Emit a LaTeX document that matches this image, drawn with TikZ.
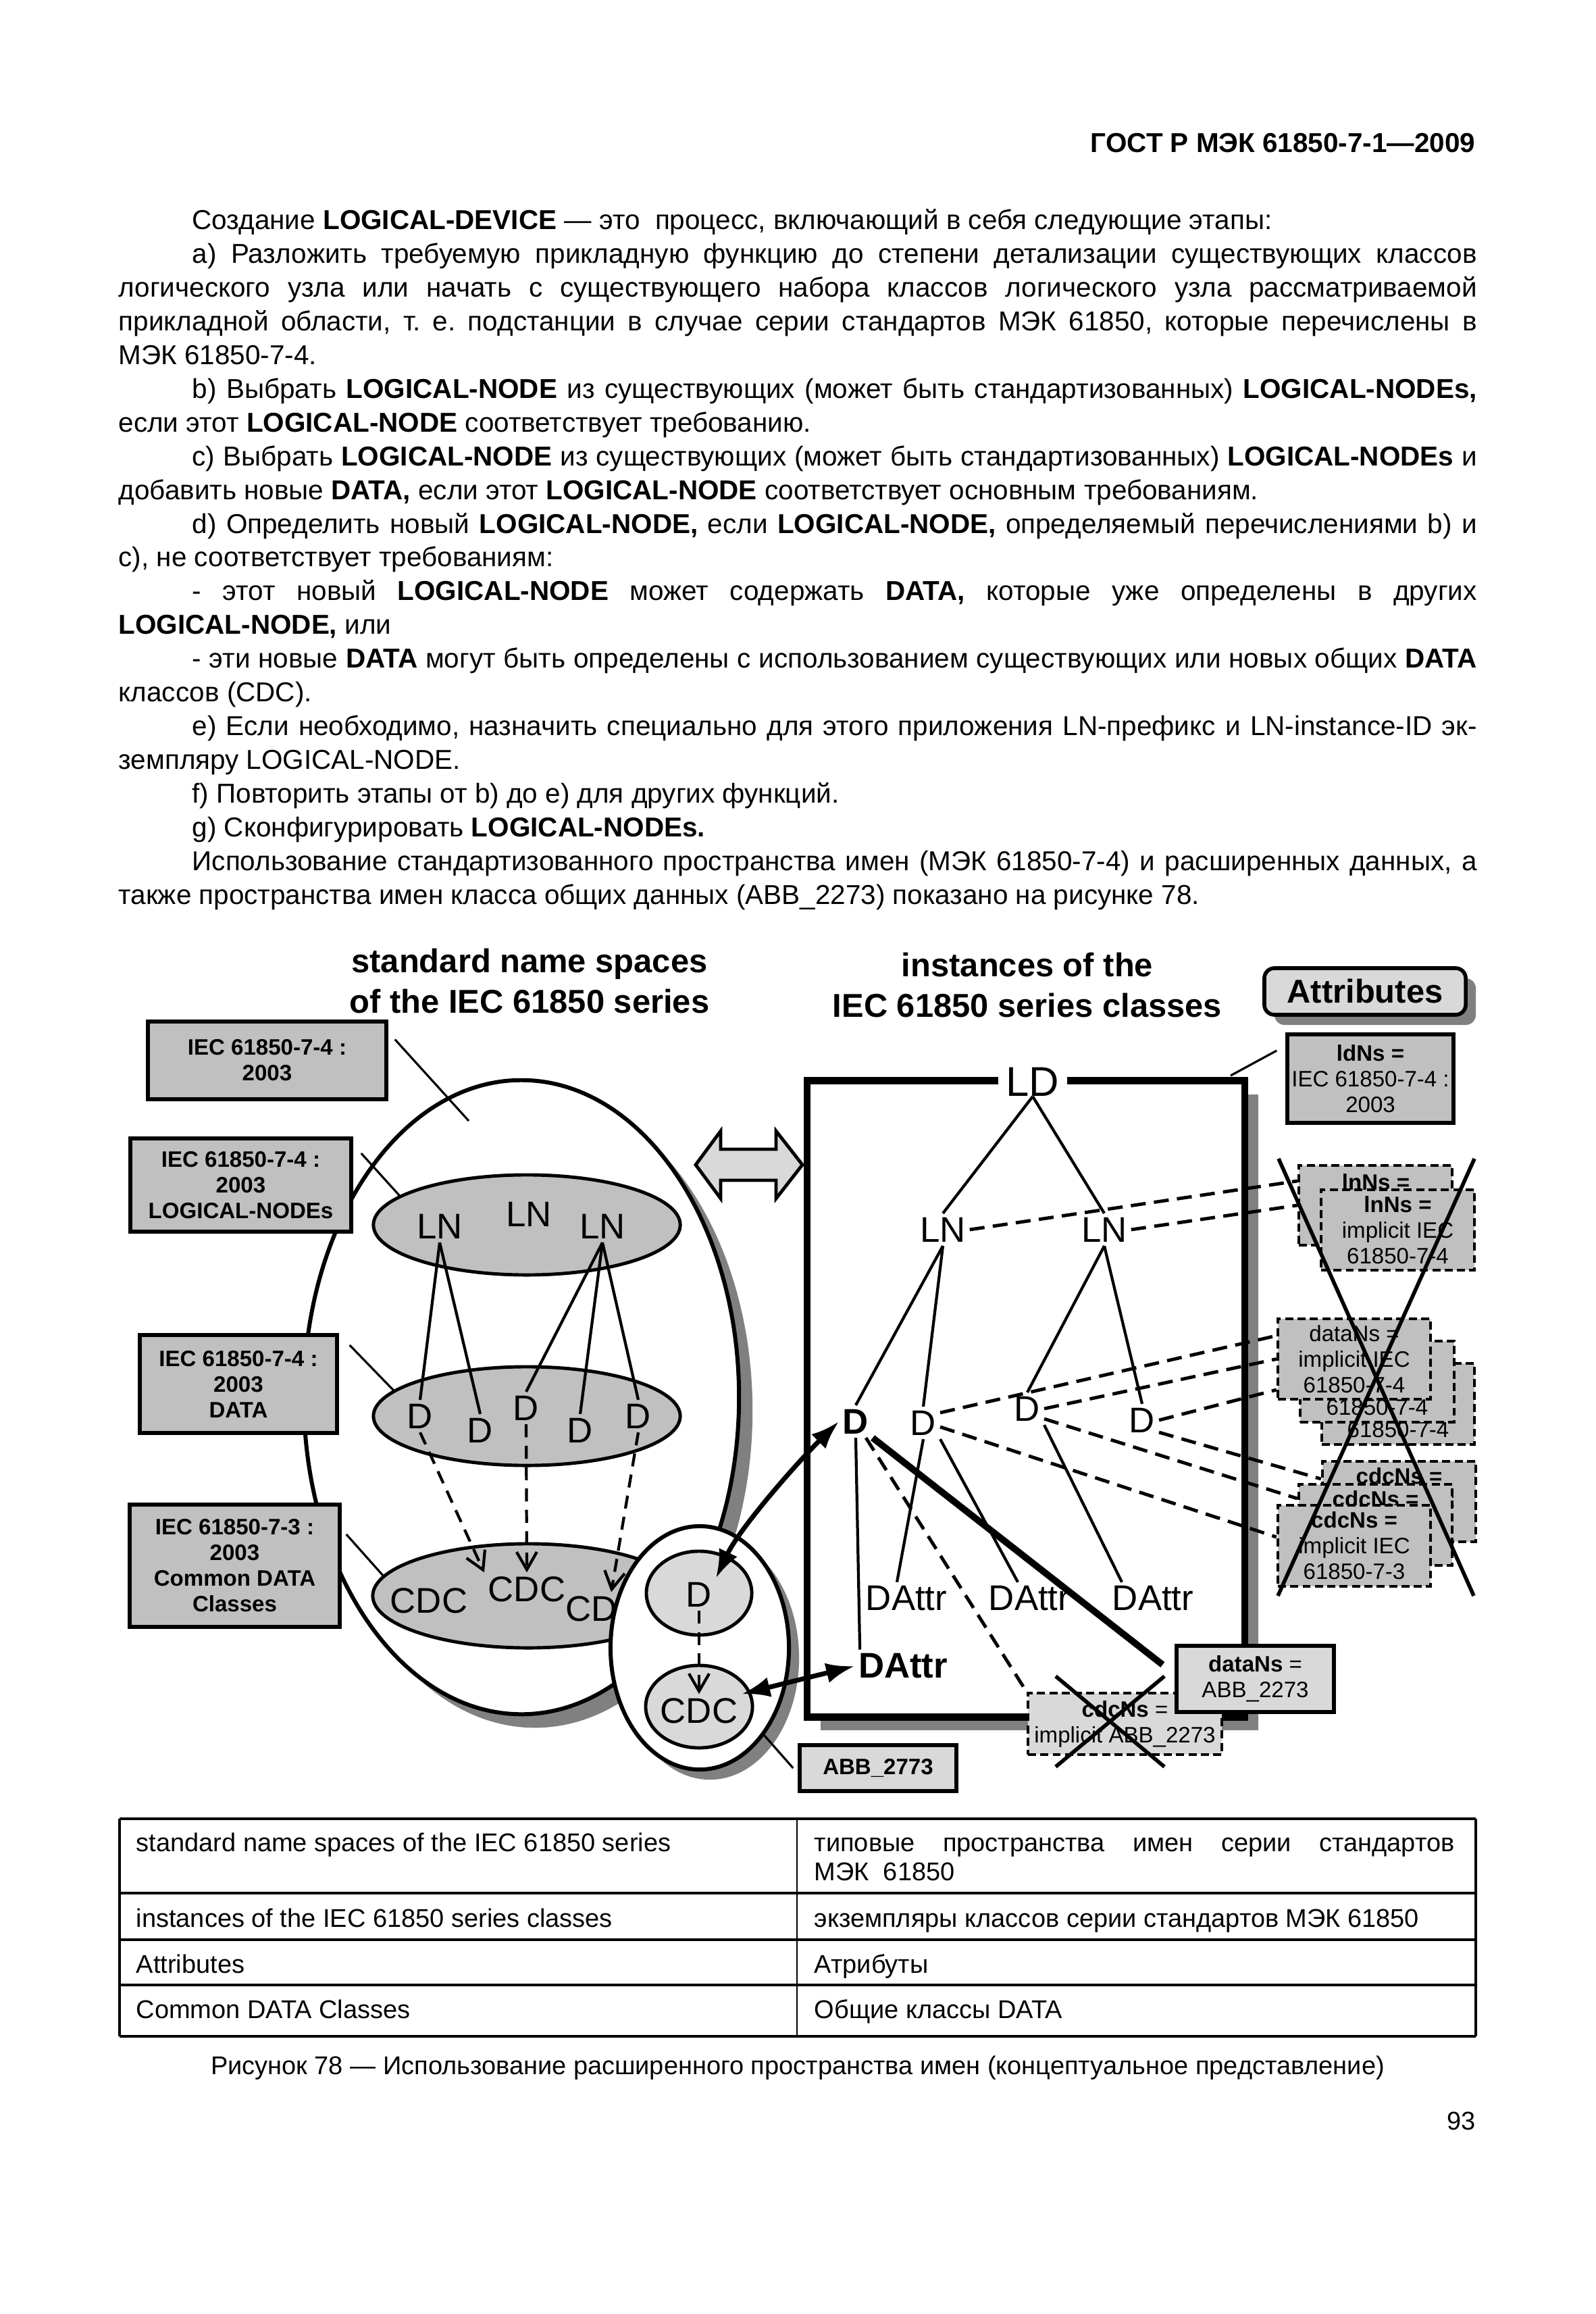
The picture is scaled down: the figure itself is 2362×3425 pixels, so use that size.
\documentclass[tikz,border=0pt]{standalone}
\usepackage{fontspec}
\setmainfont{Liberation Sans}
\usetikzlibrary{shapes.geometric,arrows.meta,shadows,calc}
\definecolor{dgray}{HTML}{C0C0C0}
\definecolor{lgray}{HTML}{D9D9D9}
\definecolor{shgray}{HTML}{808080}
\frenchspacing
\newcommand\fBody{\fontsize{11.5pt}{14.2pt}\selectfont}
\newcommand\fTab{\fontsize{10.8pt}{13pt}\selectfont}
\newcommand\fHead{\fontsize{11.5pt}{14pt}\selectfont\bfseries}
\newcommand\fTitle{\fontsize{13.9pt}{16.8pt}\selectfont\bfseries}
\newcommand\fSym{\fontsize{15pt}{18pt}\selectfont}
\newcommand\fLD{\fontsize{17.5pt}{20pt}\selectfont}
\newcommand\fSmall{\fontsize{9.4pt}{10.8pt}\selectfont}
\newcommand\jlineA[1]{\makebox[19.01cm][s]{#1}}
\newcommand\jlineB[1]{\makebox[20.10cm][s]{#1}}
\tikzset{
 bodyt/.style={font=\fBody, inner sep=0pt, anchor=base west},
 tabt/.style={font=\fTab, inner sep=0pt, anchor=base west},
 symtxt/.style={font=\fSym, inner sep=1.5pt},
 lblbox/.style={draw, line width=1.5pt, fill=dgray, inner sep=0pt, align=center, font=\fSmall\bfseries},
 attdash/.style={draw, line width=1.2pt, dash pattern=on 3.4pt off 1.8pt, fill=dgray, inner sep=0pt, align=center, font=\fSmall},
 litebox/.style={draw, line width=1.5pt, fill=lgray, inner sep=0pt, align=center, font=\fSmall},
 inell/.style={ellipse, draw, line width=1.4pt, fill=dgray, inner sep=0pt},
 treeline/.style={line width=1.2pt},
 dashln/.style={line width=1.4pt, dash pattern=on 6.3pt off 3.5pt},
 dasharrS/.style={line width=1.2pt, dash pattern=on 5.5pt off 3.5pt, -{Straight Barb[length=0.26cm,width=0.3cm]}},
 leader/.style={line width=0.9pt},
 xmark/.style={line width=1.6pt},
 boldarr/.style={line width=2pt, {Latex[length=0.42cm,width=0.3cm]}-{Latex[length=0.42cm,width=0.3cm]}},
 myshadow/.style={drop shadow={shadow xshift=#1, shadow yshift=-#1, fill=shgray, opacity=1}},
}
\begin{document}
\begin{tikzpicture}[x=0.01cm,y=-0.01cm]
\useasboundingbox (0,0) rectangle (2362,3425);
\fill[white] (0,0) rectangle (2362,3425);

% ---------- header and body text ----------
\node[bodyt, anchor=base east, font=\fHead] (hdr) at (2185,226) {ГОСТ Р МЭК 61850-7-1—2009};
\node[bodyt] (t1) at (284,340) {Создание \textbf{LOGICAL-DEVICE} — это\ \ процесс, включающий в себя следующие этапы:};
\node[bodyt] (t2) at (284,389.9) {\jlineA{а) Разложить требуемую прикладную функцию до степени детализации существующих классов}};
\node[bodyt] (t3) at (175,439.8) {\jlineB{логического узла или начать с существующего набора классов логического узла рассматриваемой}};
\node[bodyt] (t4) at (175,489.7) {\jlineB{прикладной области, т. е. подстанции в случае серии стандартов МЭК 61850, которые перечислены в}};
\node[bodyt] (t5) at (175,539.6) {МЭК 61850-7-4.};
\node[bodyt] (t6) at (284,589.5) {\jlineA{b) Выбрать \textbf{LOGICAL-NODE} из существующих (может быть стандартизованных) \textbf{LOGICAL-NODEs,}}};
\node[bodyt] (t7) at (175,639.4) {если этот \textbf{LOGICAL-NODE} соответствует требованию.};
\node[bodyt] (t8) at (284,689.3) {\jlineA{c) Выбрать \textbf{LOGICAL-NODE} из существующих (может быть стандартизованных) \textbf{LOGICAL-NODEs} и}};
\node[bodyt] (t9) at (175,739.2) {добавить новые \textbf{DATA,} если этот \textbf{LOGICAL-NODE} соответствует основным требованиям.};
\node[bodyt] (t10) at (284,789.1) {\jlineA{d) Определить новый \textbf{LOGICAL-NODE,} если \textbf{LOGICAL-NODE,} определяемый перечислениями b) и}};
\node[bodyt] (t11) at (175,839) {c), не соответствует требованиям:};
\node[bodyt] (t12) at (284,888.9) {\jlineA{- этот новый \textbf{LOGICAL-NODE} может содержать \textbf{DATA,} которые уже определены в других}};
\node[bodyt] (t13) at (175,938.8) {\textbf{LOGICAL-NODE,} или};
\node[bodyt] (t14) at (284,988.7) {\jlineA{- эти новые \textbf{DATA} могут быть определены с использованием существующих или новых общих \textbf{DATA}}};
\node[bodyt] (t15) at (175,1038.6) {классов (CDC).};
\node[bodyt] (t16) at (284,1088.5) {\jlineA{e) Если необходимо, назначить специально для этого приложения LN-префикс и LN-instance-ID эк-}};
\node[bodyt] (t17) at (175,1138.4) {земпляру LOGICAL-NODE.};
\node[bodyt] (t18) at (284,1188.3) {f) Повторить этапы от b) до e) для других функций.};
\node[bodyt] (t19) at (284,1238.2) {g) Сконфигурировать \textbf{LOGICAL-NODEs.}};
\node[bodyt] (t20) at (284,1288.1) {\jlineA{Использование стандартизованного пространства имен (МЭК 61850-7-4) и расширенных данных, а}};
\node[bodyt] (t21) at (175,1338) {также пространства имен класса общих данных (ABB\_2273) показано на рисунке 78.};

% ---------- titles ----------
\node[font=\fTitle, align=center, inner sep=0pt] (ttlA) at (784,1452) {standard name spaces\\of the IEC 61850 series};
\node[font=\fTitle, align=center, inner sep=0pt] (ttlB) at (1521,1458) {instances of the\\IEC 61850 series classes};

% ---------- standard name space ellipse ----------
\node[ellipse, draw, line width=1.7pt, fill=white, minimum width=6.44cm, minimum height=9.38cm, inner sep=0pt, myshadow=0.2cm] (nsell) at (772,2068) {};
\node[inell, minimum width=4.54cm, minimum height=1.48cm] (lnell) at (780,1813) {};
\node[inell, minimum width=4.54cm, minimum height=1.46cm] (dell) at (780,2096) {};
\node[inell, minimum width=4.60cm, minimum height=1.54cm] (cdcell) at (782,2362) {};

\node[symtxt] (lnA) at (651,1815) {LN};
\node[symtxt] (lnB) at (783,1797) {LN};
\node[symtxt] (lnC) at (892,1815) {LN};
\node[symtxt] (dA) at (622,2096) {D};
\node[symtxt] (dB) at (711,2117) {D};
\node[symtxt] (dC) at (779,2084) {D};
\node[symtxt] (dD) at (859,2117) {D};
\node[symtxt] (dE) at (945,2096) {D};
\node[symtxt] (cdcA) at (635,2369) {CDC};
\node[symtxt] (cdcB) at (780,2352) {CDC};
\node[symtxt] (cdcC) at (895,2381) {CDC};

\draw[treeline] (lnA.south) -- (dA.north);
\draw[treeline] (lnA.south) -- (dB.north);
\draw[treeline] (lnC.south) -- (dC.north);
\draw[treeline] (lnC.south) -- (dD.north);
\draw[treeline] (lnC.south) -- (dE.north);
\draw[dasharrS] (dA.south) -- (cdcB.north west);
\draw[dasharrS] (dC.south) -- (cdcB.north);
\draw[dasharrS] (dE.south) -- ([xshift=0.1cm]cdcC.north);

% ---------- label boxes left ----------
\node[lblbox, minimum width=3.53cm, minimum height=1.15cm] (b1) at (395.5,1569.5) {IEC 61850-7-4 :\\2003};
\node[lblbox, minimum width=3.27cm, minimum height=1.38cm] (b2) at (356.5,1754) {IEC 61850-7-4 :\\2003\\LOGICAL-NODEs};
\node[lblbox, minimum width=2.92cm, minimum height=1.45cm] (b3) at (353,2048.5) {IEC 61850-7-4 :\\2003\\DATA};
\node[lblbox, minimum width=3.11cm, minimum height=1.81cm] (b4) at (347.5,2317.5) {IEC 61850-7-3 :\\2003\\Common DATA\\Classes};
\coordinate (c1) at (694,1659);
\draw[leader] ([xshift=0.1cm,yshift=0.31cm]b1.east) -- (c1);
\draw[leader] ([xshift=0.12cm,yshift=0.47cm]b2.east) -- (lnell.167);
\draw[leader] ([xshift=0.16cm,yshift=0.575cm]b3.east) -- (dell.169);
\draw[leader] ([xshift=0.07cm,yshift=0.465cm]b4.east) -- (cdcell.172);

% ---------- ABB name space ellipse ----------
\node[ellipse, draw, line width=1.7pt, fill=white, minimum width=2.64cm, minimum height=3.6cm, inner sep=0pt, myshadow=0.15cm] (sell) at (1036,2439) {};
\node[ellipse, draw, line width=1.4pt, fill=lgray, minimum width=1.56cm, minimum height=1.24cm, inner sep=0pt] (sDe) at (1035,2358) {};
\node[ellipse, draw, line width=1.4pt, fill=lgray, minimum width=1.58cm, minimum height=1.22cm, inner sep=0pt] (sCe) at (1035,2526) {};
\node[symtxt] (sdt) at (1035,2360) {D};
\node[symtxt] (sct) at (1035,2532) {CDC};
\draw[dasharrS] (sdt.south) -- (sct.north);
\node[litebox, minimum width=2.32cm, minimum height=0.68cm, font=\fSmall\bfseries] (abb) at (1300,2617) {ABB\_2773};
\draw[leader] ([xshift=-0.07cm]abb.west) -- (sell.south east);

% ---------- hollow double arrow ----------
\draw[line width=1.4pt, fill=lgray] (1030,1724) -- (1067,1674) -- (1067,1701) -- (1149,1701) -- (1149,1674) -- (1188,1724) -- (1149,1774) -- (1149,1747) -- (1067,1747) -- (1067,1774) -- cycle;

% ---------- LD box ----------
\node[draw, line width=3pt, fill=white, minimum width=6.48cm, minimum height=9.41cm, inner sep=0pt, myshadow=0.2cm] (ldbox) at (1519,2070.5) {};
\node[font=\fLD, fill=white, inner xsep=0.12cm, inner ysep=0pt] (ld) at (1529,1601) {LD};
\node[symtxt] (ln1b) at (1396,1820) {LN};
\node[symtxt] (ln2b) at (1635,1820) {LN};
\node[symtxt, font=\fSym\bfseries] (d1b) at (1267,2104) {D};
\node[symtxt] (d2b) at (1367,2106) {D};
\node[symtxt] (d3b) at (1521,2085) {D};
\node[symtxt] (d4b) at (1691,2102) {D};
\node[symtxt] (da1) at (1342,2366) {DAttr};
\node[symtxt] (da2) at (1524,2366) {DAttr};
\node[symtxt] (da3) at (1707,2366) {DAttr};
\node[symtxt, font=\fSym\bfseries] (dab) at (1337,2466) {DAttr};

\draw[treeline] (ld.south) -- (ln1b.north);
\draw[treeline] (ld.south) -- (ln2b.north);
\draw[treeline] (ln1b.south) -- (d1b.north);
\draw[treeline] (ln1b.south) -- (d2b.north);
\draw[treeline] (ln2b.south) -- (d3b.north);
\draw[treeline] (ln2b.south) -- (d4b.north);
\draw[treeline] (d1b.south) -- ([xshift=0.08cm]dab.north west);
\draw[treeline] (d2b.south) -- ([xshift=-0.14cm]da1.north);
\draw[treeline] (d2b.south east) -- ([xshift=-0.17cm]da2.north);
\draw[treeline] (d3b.south east) -- ([xshift=-0.46cm]da3.north);

% ---------- Attributes ----------
\node[draw, line width=1.6pt, fill=lgray, rounded corners=0.15cm, minimum width=2.98cm, minimum height=0.69cm, inner sep=0pt, font=\fTitle, myshadow=0.15cm] (attr) at (2021,1467.5) {Attributes};
\node[lblbox, font=\fSmall, minimum width=2.46cm, minimum height=1.31cm] (ldns) at (2029,1596.5) {\textbf{ldNs =}\\IEC 61850-7-4 :\\2003};
\coordinate (ldc) at (1822,1592);
\draw[leader] ([xshift=-0.13cm,yshift=0.415cm]ldns.west) -- (ldc);

\node[attdash, minimum width=2.27cm, minimum height=1.18cm] (lnb) at (2036.5,1784) {};
\node[font=\fSmall\bfseries, inner sep=0pt] (lnbt) at (2037,1750) {lnNs =};
\node[attdash, minimum width=2.27cm, minimum height=1.19cm] (lnf) at (2069.5,1820.5) {\textbf{lnNs =}\\implicit IEC\\61850-7-4};

\node[attdash, minimum width=2.26cm, minimum height=1.20cm] (dnb) at (2070,2078) {dataNs =\\implicit IEC\\61850-7-4};
\node[attdash, minimum width=2.28cm, minimum height=1.20cm] (dnm) at (2039,2045) {dataNs =\\implicit IEC\\61850-7-4};
\node[attdash, minimum width=2.26cm, minimum height=1.19cm] (dnf) at (2005,2011.5) {dataNs =\\implicit IEC\\61850-7-4};

\node[attdash, minimum width=2.27cm, minimum height=1.19cm] (cnb) at (2071.5,2222.5) {\textbf{cdcNs =}\\implicit IEC\\61850-7-3};
\node[attdash, minimum width=2.27cm, minimum height=1.20cm] (cnm) at (2036.5,2257) {\textbf{cdcNs =}\\implicit IEC\\61850-7-3};
\node[attdash, minimum width=2.26cm, minimum height=1.20cm] (cnf) at (2005,2288) {\textbf{cdcNs =}\\implicit IEC\\61850-7-3};

\draw[dashln] (ln1b.east) -- ([yshift=0.36cm]lnb.west);
\draw[dashln] (ln2b.east) -- (lnb.west);
\draw[dashln] ([yshift=0.15cm]d2b.east) -- ([yshift=0.345cm]dnf.west);
\draw[dashln] (d3b.east) -- (dnf.west);
\draw[dashln] (d4b.east) -- ([yshift=-0.455cm]dnf.west);
\draw[dashln] ([yshift=-0.06cm]d2b.east) -- ([yshift=0.13cm]cnf.west);
\draw[dashln] ([yshift=-0.15cm]d3b.east) -- ([yshift=0.39cm]cnm.west);
\draw[dashln] ([yshift=-0.18cm]d4b.east) -- ([yshift=0.335cm]cnb.west);

\draw[xmark] (1893,1715) -- (2182,2362);
\draw[xmark] (2183,1715) -- (1892,2362);

% ---------- ABB attributes ----------
\node[attdash, fill=lgray, minimum width=2.87cm, minimum height=0.91cm] (cdcabb) at (1665.5,2551.5) {\textbf{cdcNs} =\\implicit ABB\_2273};
\node[litebox, minimum width=2.33cm, minimum height=0.98cm] (dnabb) at (1858.5,2485) {\textbf{dataNs} =\\ABB\_2273};
\draw[xmark] (1563,2481) -- (1724,2615);
\draw[xmark] (1724,2481) -- (1563,2615);
\draw[dashln] ([xshift=-0.1cm]d1b.south east) -- (cdcabb.north west);
\draw[line width=2.8pt] (d1b.south east) -- ([xshift=-0.18cm,yshift=0.21cm]dnabb.west);

% ---------- bold arrows ----------
\draw[boldarr] (sdt.north east) .. controls (1095,2262) and (1180,2165) .. (d1b.west);
\draw[boldarr] (sct.north east) -- (dab.west);

% ---------- table ----------
\draw[line width=1.1pt] (177,2692) -- (2185,2692);
\draw[line width=1.1pt] (177,2802) -- (2185,2802);
\draw[line width=1.1pt] (177,2871) -- (2185,2871);
\draw[line width=1.1pt] (177,2938) -- (2185,2938);
\draw[line width=1.1pt] (177,3014) -- (2185,3014);
\draw[line width=0.9pt] (177,2692) -- (177,3014);
\draw[line width=0.7pt] (1180,2692) -- (1180,3014);
\draw[line width=0.9pt] (2185,2692) -- (2185,3014);
\node[tabt] (r1a) at (201,2740) {standard name spaces of the IEC 61850 series};
\node[tabt] (r1b) at (1205,2740) {\makebox[9.47cm][s]{типовые пространства имен серии стандартов}};
\node[tabt] (r1c) at (1205,2783) {МЭК\ \ 61850};
\node[tabt] (r2a) at (201,2852) {instances of the IEC 61850 series classes};
\node[tabt] (r2b) at (1205,2852) {экземпляры классов серии стандартов МЭК 61850};
\node[tabt] (r3a) at (201,2920) {Attributes};
\node[tabt] (r3b) at (1205,2920) {Атрибуты};
\node[tabt] (r4a) at (201,2987) {Common DATA Classes};
\node[tabt] (r4b) at (1205,2987) {Общие классы DATA};
\node[tabt, anchor=base] (cap) at (1181,3070) {Рисунок 78 — Использование расширенного пространства имен (концептуальное представление)};
\node[tabt, anchor=base east] (pg) at (2185,3152) {93};
\end{tikzpicture}
\end{document}
